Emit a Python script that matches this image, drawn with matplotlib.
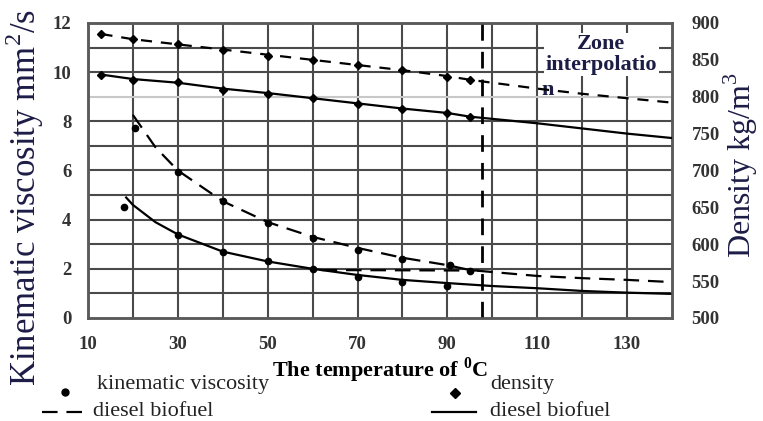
import matplotlib
matplotlib.use("Agg")
import matplotlib.pyplot as plt
from matplotlib.lines import Line2D

plt.rcParams['font.family'] = ['Liberation Serif', 'DejaVu Serif']
plt.rcParams['mathtext.fontset'] = 'custom'
plt.rcParams['mathtext.rm'] = 'Liberation Serif'
plt.rcParams['mathtext.bf'] = 'Liberation Serif:bold'

###### Data ###################################################################
# kinematic viscosity (left axis, mm2/s)
visc_bio_pts_x = [20.4, 30, 40, 50, 60, 70, 80, 90.5, 95]
visc_bio_pts_y = [7.73, 5.94, 4.76, 3.87, 3.26, 2.77, 2.40, 2.16, 1.91]
visc_bio_line_x = [20, 25, 30, 40, 50, 60, 70, 80, 90, 95, 100, 110, 120, 130, 140]
visc_bio_line_y = [8.26, 6.95, 6.0, 4.75, 3.9, 3.3, 2.85, 2.45, 2.15, 1.95, 1.87, 1.71, 1.62, 1.55, 1.46]
visc_extra_x = [62, 97]  # stray dashed segment near 2 mm2/s
visc_extra_y = [1.95, 1.93]

visc_dsl_pts_x = [18, 30, 40, 50, 60, 70, 80, 90]
visc_dsl_pts_y = [4.52, 3.38, 2.69, 2.32, 1.99, 1.67, 1.46, 1.30]
visc_dsl_line_x = [18.5, 20, 25, 30, 40, 50, 60, 70, 80, 90, 100, 110, 120, 130, 140]
visc_dsl_line_y = [4.9, 4.6, 3.9, 3.4, 2.7, 2.3, 2.0, 1.75, 1.55, 1.42, 1.3, 1.21, 1.1, 1.03, 0.98]

# density (right axis, kg/m3)
dens_bio_pts_x = [13, 20, 30, 40, 50, 60, 70, 80, 90, 95]
dens_bio_pts_y = [885, 878, 872, 863, 855, 850, 843, 836, 827, 823]
dens_bio_line_x = [13, 20, 30, 40, 50, 60, 70, 80, 90, 95, 100, 110, 120, 130, 140]
dens_bio_line_y = [885, 878, 871, 864, 857, 850, 843, 836, 828, 823, 819, 811, 804, 798, 792]

dens_dsl_pts_x = [13, 20, 30, 40, 50, 60, 70, 80, 90, 95]
dens_dsl_pts_y = [830, 823, 820, 809, 804, 798, 790, 783, 778, 773]
dens_dsl_line_x = [13, 20, 30, 40, 50, 60, 70, 80, 90, 95, 100, 110, 120, 130, 140]
dens_dsl_line_y = [830, 824, 819, 811, 805, 798, 791, 784, 778, 773, 770, 764, 757, 750, 744]

zone_x = 97.6

x_ticks = [10, 30, 50, 70, 90, 110, 130]
y_ticks = [0, 2, 4, 6, 8, 10, 12]
y2_ticks = [500, 550, 600, 650, 700, 750, 800, 850, 900]

###### Figure ##################################################################
navy = '#1c1c46'
gridc = '#4a4a4a'

fig = plt.figure(figsize=(7.63, 4.21), dpi=100)
ax = fig.add_axes([0.1153, 0.2447, 0.7654, 0.7007])
ax2 = ax.twinx()

ax.set_xlim(10, 140)
ax.set_ylim(0, 12)
ax2.set_ylim(500, 900)

# grid: every 10 degrees, every 1 mm2/s
for gx in range(20, 140, 10):
    ax.axvline(gx, color=gridc, lw=1.5, zorder=1)
for gy in range(1, 12):
    c = '#c8c8c8' if gy == 9 else gridc
    ax.axhline(gy, color=c, lw=1.5, zorder=1)

for a in (ax, ax2):
    for s in a.spines.values():
        s.set_color('#5a5a5a')
        s.set_linewidth(1.8)

lw = 1.6
# viscosity
ax.plot(visc_bio_line_x, visc_bio_line_y, color='black', lw=lw, dashes=(7, 4), zorder=3)
ax.plot(visc_extra_x, visc_extra_y, color='black', lw=lw, dashes=(7, 4), zorder=3)
ax.plot(visc_bio_pts_x, visc_bio_pts_y, 'o', color='black', ms=4.5, zorder=4)
ax.plot(visc_dsl_line_x, visc_dsl_line_y, color='black', lw=lw, zorder=3)
ax.plot(visc_dsl_pts_x, visc_dsl_pts_y, 'o', color='black', ms=4.5, zorder=4)

# density
ax2.plot(dens_bio_line_x, dens_bio_line_y, color='black', lw=lw, dashes=(5, 4), zorder=3)
ax2.plot(dens_bio_pts_x, dens_bio_pts_y, 'D', color='black', ms=4, zorder=4)
ax2.plot(dens_dsl_line_x, dens_dsl_line_y, color='black', lw=lw, zorder=3)
ax2.plot(dens_dsl_pts_x, dens_dsl_pts_y, 'D', color='black', ms=4, zorder=4)

ax.axvline(zone_x, color='black', lw=2, dashes=(6, 4), zorder=3)

# zone label
ax.text(124.3, 10.72, 'Zone\ninterpolatio', ha='center', va='center', fontsize=16,
        fontweight='bold', color=navy, linespacing=1.05, zorder=5,
        bbox=dict(facecolor='white', edgecolor='none', pad=1))
ax.text(111.0, 9.28, 'n', ha='left', va='center', fontsize=16, fontweight='bold',
        color=navy, zorder=5)

# ticks
ax.set_xticks(x_ticks)
ax.set_yticks(y_ticks)
ax2.set_yticks(y2_ticks)
ax.tick_params(axis='x', length=0, pad=13, labelsize=13.5, colors='#333333')
ax.tick_params(axis='y', length=0, pad=12, labelsize=13.5, colors='#333333')
ax2.tick_params(axis='y', length=0, pad=14, labelsize=13.5, colors='#333333')
for lab in ax.get_xticklabels() + ax.get_yticklabels() + ax2.get_yticklabels():
    lab.set_fontweight('bold')

ax.set_xlabel(r'The temperature of $^{\mathbf{0}}$C', fontsize=16, fontweight='bold',
              color='black')
ax.xaxis.set_label_coords(0.5, -0.128)
ax.set_ylabel('Kinematic viscosity mm$^2$/s', fontsize=25, color=navy)
ax2.set_ylabel('Density kg/m$^3$', fontsize=23, color=navy)
ax.yaxis.set_label_coords(-0.072, 0.407)
ax2.yaxis.set_label_coords(1.086, 0.52)

# legend drawn under the axes
def fx(p):
    return p / 763.0

def fy(p):
    return 1 - p / 421.0

fig.add_artist(Line2D([fx(65)], [fy(392)], marker='o', color='black', ms=5, lw=0))
fig.text(fx(97), fy(385), 'kinematic viscosity', fontsize=16, va='center', color='#222222')
fig.add_artist(Line2D([fx(42), fx(90)], [fy(412), fy(412)], color='black', lw=1.6, dashes=(7, 4)))
fig.text(fx(93), fy(412), 'diesel biofuel', fontsize=16, va='center', color='#222222')

fig.add_artist(Line2D([fx(455)], [fy(393)], marker='D', color='black', ms=5, lw=0))
fig.text(fx(490), fy(385), 'density', fontsize=16, va='center', color='#222222')
fig.add_artist(Line2D([fx(432), fx(476)], [fy(412), fy(412)], color='black', lw=1.6))
fig.text(fx(490), fy(412), 'diesel biofuel', fontsize=16, va='center', color='#222222')

plt.savefig('out.png', dpi=100)
